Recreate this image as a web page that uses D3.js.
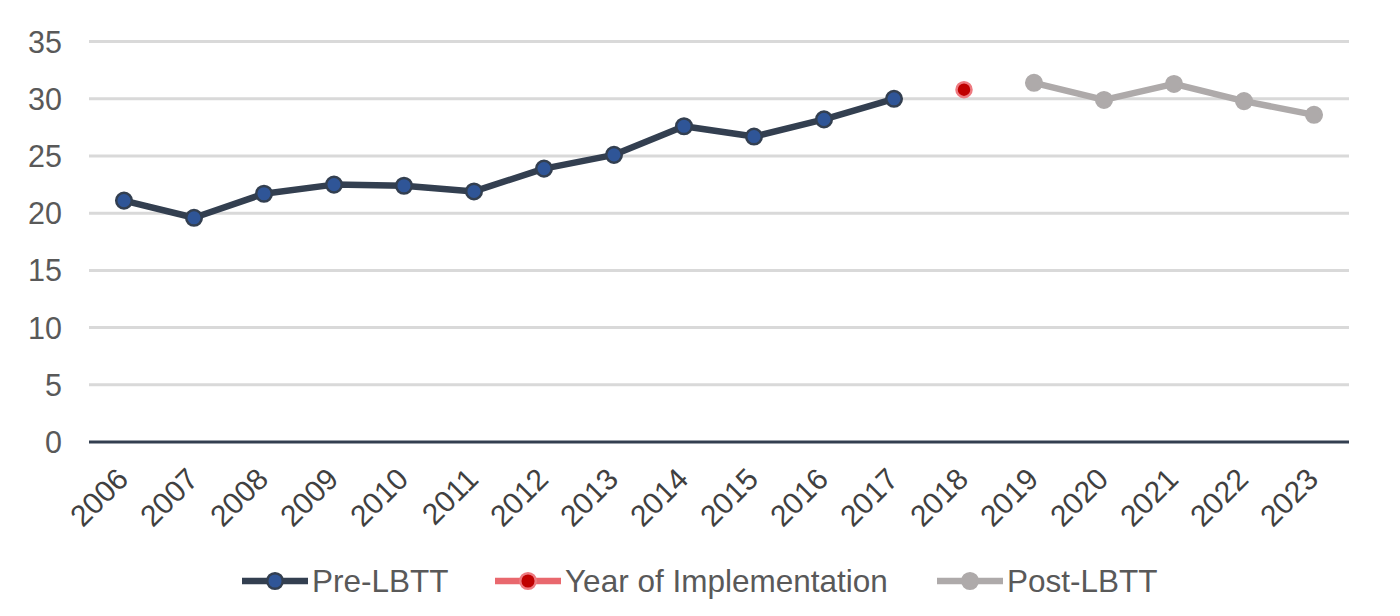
<!DOCTYPE html>
<html><head><meta charset="utf-8">
<script src="https://cdn.jsdelivr.net/npm/d3@7"></script>
<style>body{margin:0;background:#fff;}svg{display:block;font-family:"Liberation Sans",Arial,sans-serif;}</style>
</head><body>
<svg id="c" width="1400" height="616"></svg>
<script>
const years = ["2006","2007","2008","2009","2010","2011","2012","2013","2014","2015","2016","2017","2018","2019","2020","2021","2022","2023"];
const preYears = ["2006","2007","2008","2009","2010","2011","2012","2013","2014","2015","2016","2017"];
const preValues = [21.1,19.6,21.7,22.5,22.4,21.9,23.9,25.1,27.6,26.7,28.2,30.0];
const implYears = ["2018"];
const implValues = [30.8];
const postYears = ["2019","2020","2021","2022","2023"];
const postValues = [31.4,29.9,31.3,29.8,28.6];
const yTicks = [0,5,10,15,20,25,30,35];
const seriesNames = ["Pre-LBTT","Year of Implementation","Post-LBTT"];

const svg = d3.select("#c");
const pLeft = 89, pRight = 1349, pTop = 41.6, pBottom = 442;
const x = d3.scaleBand().domain(years).range([pLeft, pRight]);
const y = d3.scaleLinear().domain([0,35]).range([pBottom, pTop]);

// gridlines
svg.append("g").selectAll("line").data(yTicks.filter(d=>d>0)).join("line")
  .attr("x1", pLeft).attr("x2", pRight)
  .attr("y1", d=>y(d)).attr("y2", d=>y(d))
  .attr("stroke", "#d9d9d9").attr("stroke-width", 3);

// y labels
svg.append("g").selectAll("text").data(yTicks).join("text")
  .attr("x", 62).attr("y", d=>y(d)).attr("dy", "0.36em")
  .attr("text-anchor", "end").attr("font-size", 30.5).attr("fill", "#595959")
  .text(d=>d);

// x axis line
svg.append("line").attr("x1", pLeft).attr("x2", pRight).attr("y1", y(0)).attr("y2", y(0))
  .attr("stroke", "#333f50").attr("stroke-width", 3);

// x labels
svg.append("g").selectAll("text").data(years).join("text")
  .attr("transform", d=>`translate(${x(d)+x.bandwidth()/2+6},${y(0)+39}) rotate(-45)`)
  .attr("text-anchor", "end").attr("font-size", 30).attr("fill", "#404040")
  .text(d=>d);

const cx = d => x(d) + x.bandwidth()/2;
function drawSeries(ys, vs, lineColor, fill, stroke, r) {
  const data = ys.map((d,i)=>({k:d,v:vs[i]}));
  if (data.length > 1) {
    svg.append("path").datum(data)
      .attr("d", d3.line().x(d=>cx(d.k)).y(d=>y(d.v)))
      .attr("fill","none").attr("stroke", lineColor).attr("stroke-width", 6.5)
      .attr("stroke-linejoin","round");
  }
  svg.append("g").selectAll("circle").data(data).join("circle")
    .attr("cx", d=>cx(d.k)).attr("cy", d=>y(d.v)).attr("r", r)
    .attr("fill", fill).attr("stroke", stroke).attr("stroke-width", 2.5);
}
drawSeries(preYears, preValues, "#333f50", "#2f5597", "#333f50", 7.8);
drawSeries(implYears, implValues, "#e9686e", "#c00000", "#ee7a80", 7.5);
drawSeries(postYears, postValues, "#aeaaaa", "#aeaaaa", "#aeaaaa", 7.8);

// legend
const legend = [
  {name: seriesNames[0], line:"#333f50", fill:"#2f5597", stroke:"#333f50", x:242},
  {name: seriesNames[1], line:"#e9686e", fill:"#c00000", stroke:"#ee7a80", x:495},
  {name: seriesNames[2], line:"#aeaaaa", fill:"#aeaaaa", stroke:"#aeaaaa", x:937}
];
const ly = 581;
const lg = svg.append("g").selectAll("g").data(legend).join("g");
lg.append("line").attr("x1", d=>d.x).attr("x2", d=>d.x+66).attr("y1", ly).attr("y2", ly)
  .attr("stroke", d=>d.line).attr("stroke-width", 6.5);
lg.append("circle").attr("cx", d=>d.x+33).attr("cy", ly).attr("r", 7.8)
  .attr("fill", d=>d.fill).attr("stroke", d=>d.stroke).attr("stroke-width", 2.5);
lg.append("text").attr("x", d=>d.x+70).attr("y", ly).attr("dy","0.36em")
  .attr("font-size", 31.5).attr("fill", "#595959").text(d=>d.name);
</script>
</body></html>
